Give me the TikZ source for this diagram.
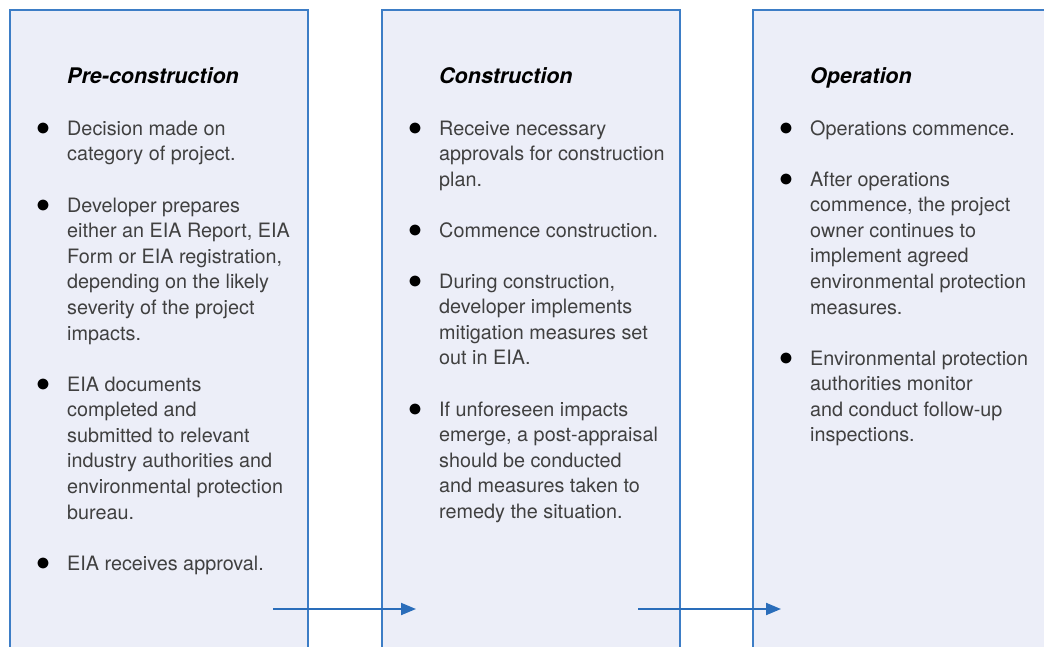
\documentclass[tikz,border=0pt]{standalone}
\usepackage{fontspec}
\setmainfont{TeX Gyre Heros}
\usetikzlibrary{arrows.meta}
\definecolor{boxfill}{HTML}{ECEEF8}
\definecolor{boxline}{HTML}{3D7DC6}
\definecolor{arrowcol}{HTML}{2A6DBA}
\definecolor{txt}{HTML}{404040}
\tikzset{
  stagebox/.style={draw=boxline, line width=1.2pt, fill=boxfill},
  stagetitle/.style={anchor=base west, inner sep=0pt, font=\fontsize{21.5}{25}\selectfont\bfseries\itshape, text=black},
  bulletitem/.style={anchor=base west, inner sep=0pt, text=txt,
     font=\fontsize{19.8}{25.6}\selectfont},
  flow/.style={draw=arrowcol, line width=2pt, -{Triangle[length=15pt,width=12pt]}}
}
\newcommand{\bul}[1]{\makebox[31pt][l]{\color{black}\scalebox{1.35}{$\bullet$}}\begin{tabular}[t]{@{}l@{}}#1\end{tabular}}
\begin{document}
\begin{tikzpicture}[x=1pt,y=-1pt]
\useasboundingbox (0,0) rectangle (1044,646);
% boxes
\path[stagebox] (10,10) rectangle (308,660);
\node[inner sep=0pt] (box1) at (159,330) {};
\path[stagebox] (382,10) rectangle (680,660);
\node[inner sep=0pt] (box2) at (531,330) {};
\path[stagebox] (753,10) rectangle (1060,660);
\node[inner sep=0pt] (box3) at (900,330) {};
% titles
\node[stagetitle] (t1) at (67,83) {Pre-construction};
\node[stagetitle] (t2) at (439,83) {Construction};
\node[stagetitle] (t3) at (810,83) {Operation};
% box 1 items
\node[bulletitem] (a1) at (36,135) {\bul{Decision made on\\category of project.}};
\node[bulletitem] (a2) at (36,212) {\bul{Developer prepares\\either an EIA Report, EIA\\Form or EIA registration,\\depending on the likely\\severity of the project\\impacts.}};
\node[bulletitem] (a3) at (36,391) {\bul{EIA documents\\completed and\\submitted to relevant\\industry authorities and\\environmental protection\\bureau.}};
\node[bulletitem] (a4) at (36,570) {\bul{EIA receives approval.}};
% box 2 items
\node[bulletitem] (b1) at (408,135) {\bul{Receive necessary\\approvals for construction\\plan.}};
\node[bulletitem] (b2) at (408,237) {\bul{Commence construction.}};
\node[bulletitem] (b3) at (408,288) {\bul{During construction,\\developer implements\\mitigation measures set\\out in EIA.}};
\node[bulletitem] (b4) at (408,416) {\bul{If unforeseen impacts\\emerge, a post-appraisal\\should be conducted\\and measures taken to\\remedy the situation.}};
% box 3 items
\node[bulletitem] (c1) at (779,135) {\bul{Operations commence.}};
\node[bulletitem] (c2) at (779,186) {\bul{After operations\\commence, the project\\owner continues to\\implement agreed\\environmental protection\\measures.}};
\node[bulletitem] (c3) at (779,365) {\bul{Environmental protection\\authorities monitor\\and conduct follow-up\\inspections.}};
% arrows
\coordinate (p1s) at (273,609);
\coordinate (p1e) at (416,609);
\coordinate (p2s) at (638,609);
\coordinate (p2e) at (781,609);
\draw[flow] (p1s) -- (p1e);
\draw[flow] (p2s) -- (p2e);
\end{tikzpicture}
\end{document}
